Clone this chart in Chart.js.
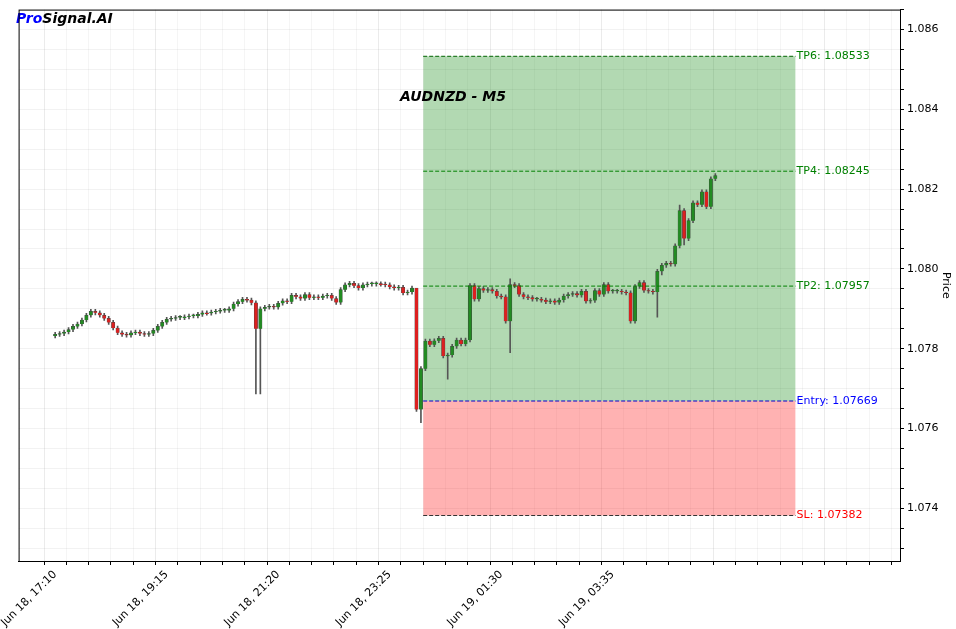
<!DOCTYPE html>
<html><head><meta charset="utf-8">
<script src="https://cdn.jsdelivr.net/npm/chart.js@4"></script>
<style>html,body{margin:0;padding:0;background:#fff}#w{width:956px;height:629px;position:relative}</style>
</head><body><div id="w"><canvas id="c" width="956" height="629"></canvas></div>
<script>
// closes in 1e-5 above 1.07000
const closes = [836,838,842,848,856,862,872,884,894,890,
884,876,866,852,840,836,834,
840,842,838,836,838,846,856,866,874,
876,878,878,880,882,882,886,890,889,
892,894,896,896,900,912,918,924,
922,915,850,900,
904,906,904,914,920,918,934,930,926,936,
928,930,928,932,934,926,916,948,960,964,
958,952,960,962,962,963,962,960,955,952,
954,940,942,952,
648,750,819,810,820,826,782,784,806,822,812,822,958,924,951,946,948,944,932,930,869,961,958,936,930,928,924,924,922,918,920,916,922,932,936,938,934,944,919,921,946,936,961,944,944,944,942,940,869,956,966,946,944,942,994,1009,1014,1012,1058,1146,1076,1121,1166,1161,1193,1156,1226,1234];
const firstOpen = 832;
const lowOverrides = {45:687, 46:687, 82:615, 88:724, 102:790, 135:879, 136:985, 141:1060};
const highOverrides = {81:925, 102:975, 140:1160};
const tickLabels = {0:'Jun 18, 17:10',25:'Jun 18, 19:15',50:'Jun 18, 21:20',75:'Jun 18, 23:25',100:'Jun 19, 01:30',125:'Jun 19, 03:35'};
const levels = [
 {name:'TP6', v:1.08533, col:'#006400', txt:'#008000'},
 {name:'TP4', v:1.08245, col:'#008000', txt:'#008000'},
 {name:'TP2', v:1.07957, col:'#008000', txt:'#008000'},
 {name:'Entry', v:1.07669, col:'#0000cc', txt:'#0000ff'},
 {name:'SL', v:1.07382, col:'#333333', txt:'#ff0000'}];
const zoneStart = 82.5, zoneEnd = 166;

const P = v => 1.07 + v/100000;
const bodies=[], wicks=[], colors=[];
closes.forEach((c,i)=>{
  const o = i===0 ? firstOpen : closes[i-1];
  const hi = highOverrides[i]!==undefined ? highOverrides[i] : Math.max(o,c)+5;
  const lo = lowOverrides[i]!==undefined ? lowOverrides[i] : Math.min(o,c)-5;
  let a=P(o), b=P(c); if (Math.abs(c-o)<1.5) b = a + (c>=o?0.00003:-0.00003);
  bodies.push({x:i, y:[a,b]});
  wicks.push({x:i, y:[P(lo),P(hi)]});
  colors.push(c>=o ? '#228b22' : '#dc2020');
});
const seg = v => [{x:zoneStart,y:v},{x:zoneEnd,y:v}];
const lineDs = (l)=>({type:'line',data:seg(l.v),borderColor:l.col,borderWidth:1,borderDash:[4,2],pointRadius:0,fill:false,order:1});

const labelsPlugin = {id:'lbl', afterDraw(ch){
  const {ctx, scales:{x,y}, chartArea:ca} = ch;
  ctx.save();
  ctx.font='11px "DejaVu Sans"'; ctx.textBaseline='middle'; ctx.textAlign='left';
  levels.forEach(l=>{ctx.fillStyle=l.txt; ctx.fillText(l.name+': '+l.v.toFixed(5), x.getPixelForValue(zoneEnd)+1, y.getPixelForValue(l.v));});
  ctx.font='italic bold 14px "DejaVu Sans"'; ctx.textAlign='center'; ctx.fillStyle='#000';
  ctx.fillText('AUDNZD - M5', 453, 97);
  ctx.textAlign='left'; ctx.font='italic bold 14px "DejaVu Sans"';
  ctx.fillStyle='#0000ff'; ctx.fillText('Pro', 16, 19);
  const w = ctx.measureText('Pro').width; ctx.fillStyle='#000'; ctx.fillText('Signal.AI', 16+w, 19);
  ctx.strokeStyle='#000'; ctx.lineWidth=1; ctx.strokeRect(ca.left+0.5, ca.top+0.5, ca.width, ca.height);
  ctx.restore();
}};

new Chart(document.getElementById('c'), {
  type:'bar',
  data:{datasets:[
    {type:'line',data:seg(1.08533),borderWidth:0,pointRadius:0,backgroundColor:'rgba(0,128,0,0.3)',fill:'+1',order:5},
    {type:'line',data:seg(1.07669),borderWidth:0,pointRadius:0,fill:false,order:5},
    {type:'line',data:seg(1.07382),borderWidth:0,pointRadius:0,backgroundColor:'rgba(255,0,0,0.3)',fill:'-1',order:5},
    ...levels.map(lineDs),
    {data:wicks,backgroundColor:'#555',barThickness:1,grouped:false,order:3},
    {data:bodies,backgroundColor:colors,borderColor:'#444',borderWidth:0.5,barThickness:3.4,grouped:false,order:2}
  ]},
  options:{responsive:false,maintainAspectRatio:false,animation:false,
    devicePixelRatio:1,
    layout:{padding:{top:6,left:7}},
    plugins:{legend:{display:false},tooltip:{enabled:false}},
    scales:{
      x:{type:'linear',min:-8.2,max:189.4,offset:false,
        afterFit(s){s.height=68;},
        ticks:{stepSize:5,autoSkip:false,maxRotation:45,minRotation:45,font:{size:11,family:'DejaVu Sans'},color:'#000',
          callback:v=>tickLabels[v]||''},
        afterBuildTicks(s){s.ticks=[];for(let v=0;v<=185;v+=5)s.ticks.push({value:v});},
        grid:{color:c=>c.tick&&c.tick.value%25===0?'rgba(0,0,0,0.08)':'rgba(0,0,0,0.04)',tickColor:'#000',tickLength:4,drawOnChartArea:true},
        border:{color:'#000'}},
      y:{position:'right',min:1.07268,max:1.0865,
        afterFit(s){s.width=56;},
        afterBuildTicks(s){s.ticks=[];for(let k=0;k<=27;k++)s.ticks.push({value:1.0730+k*0.0005});},
        ticks:{autoSkip:false,font:{size:11,family:'DejaVu Sans'},color:'#000',
          callback:v=>{const r=Math.round(v*10000); return r%20===0? v.toFixed(3):'';}},
        grid:{color:'rgba(0,0,0,0.05)',tickColor:'#000',tickLength:4},
        title:{display:true,text:'Price',color:'#000',font:{size:11,family:'DejaVu Sans'}},
        border:{color:'#000'}}
    }},
  plugins:[labelsPlugin]
});
</script></body></html>
